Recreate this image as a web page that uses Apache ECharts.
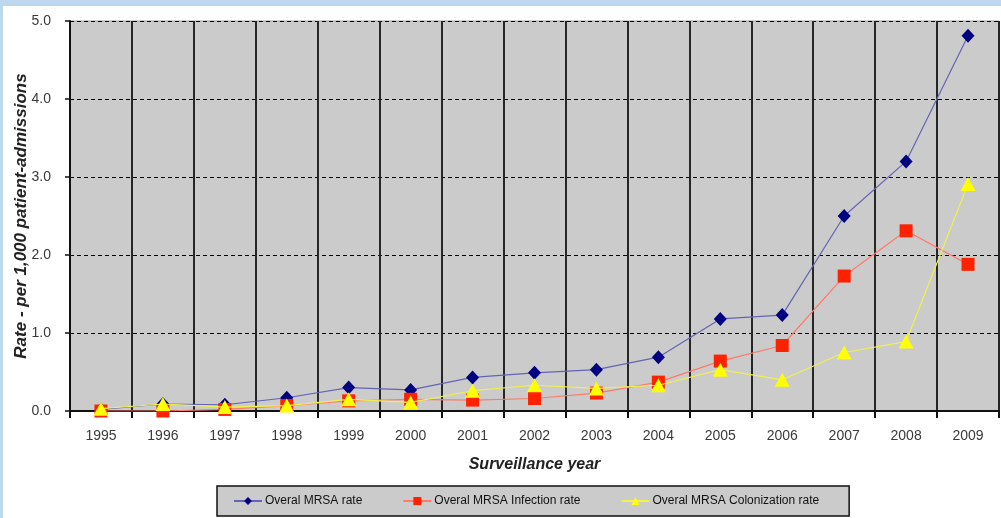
<!DOCTYPE html>
<html>
<head>
<meta charset="utf-8">
<script src="https://cdn.jsdelivr.net/npm/echarts@6/dist/echarts.min.js"></script>
<style>
  html, body { margin: 0; padding: 0; width: 1001px; height: 518px; background: #bdd7ee; overflow: hidden; }
  #chart { position: absolute; left: 3px; top: 6px; width: 998px; height: 512px; background: #ffffff; }
</style>
</head>
<body>
<div id="chart"></div>
<script>
const years = ['1995','1996','1997','1998','1999','2000','2001','2002','2003','2004','2005','2006','2007','2008','2009'];
const overallRate = [0.02, 0.09, 0.08, 0.17, 0.30, 0.27, 0.43, 0.49, 0.53, 0.69, 1.18, 1.23, 2.50, 3.20, 4.81];
const infectionRate = [0.00, 0.00, 0.02, 0.07, 0.13, 0.15, 0.14, 0.16, 0.23, 0.37, 0.64, 0.84, 1.73, 2.31, 1.88];
const colonizationRate = [0.03, 0.09, 0.05, 0.07, 0.15, 0.11, 0.26, 0.33, 0.29, 0.33, 0.53, 0.40, 0.75, 0.89, 2.91];
const yTicks = { min: 0, max: 5, interval: 1 };

const chart = echarts.init(document.getElementById('chart'));
const textColor = '#3a3a3a';
chart.setOption({
  animation: false,
  backgroundColor: '#ffffff',
  grid: {
    left: 67, right: 2, top: 15, bottom: 107,
    containLabel: false,
    outerBoundsMode: 'none',
    show: true, backgroundColor: '#cbcbcb', borderColor: '#a0a0a0', borderWidth: 1
  },
  legend: {
    left: 214, top: 480,
    padding: [9, 30, 9, 16],
    itemGap: 40,
    itemWidth: 28, itemHeight: 10,
    backgroundColor: '#cbcbcb',
    borderColor: '#111', borderWidth: 1.5,
    textStyle: { fontFamily: 'Liberation Sans, Arial', fontSize: 12, color: '#111', padding: [0, 0, 0, -2] },
    data: ['Overal MRSA rate', 'Overal MRSA Infection rate', 'Overal MRSA Colonization rate']
  },
  xAxis: {
    type: 'category',
    data: years,
    boundaryGap: true,
    name: 'Surveillance year',
    nameLocation: 'middle',
    nameGap: 46,
    nameMoveOverlap: false,
    nameTextStyle: { fontFamily: 'Liberation Sans, Arial', fontSize: 16, fontWeight: 'bold', fontStyle: 'italic', color: '#222' },
    axisLine: { lineStyle: { color: '#111', width: 2 } },
    axisTick: { show: true, length: 7, lineStyle: { color: '#111', width: 2 } },
    axisLabel: { fontFamily: 'Liberation Sans, Arial', fontSize: 14, color: textColor, margin: 18 },
    splitLine: { show: true, lineStyle: { color: '#262626', width: 2 } }
  },
  yAxis: {
    type: 'value',
    min: yTicks.min, max: yTicks.max, interval: yTicks.interval,
    name: 'Rate - per 1,000 patient-admissions',
    nameLocation: 'middle',
    nameGap: 40,
    nameMoveOverlap: false,
    nameTextStyle: { fontFamily: 'Liberation Sans, Arial', fontSize: 17, fontWeight: 'bold', fontStyle: 'italic', color: '#222' },
    axisLine: { show: true, lineStyle: { color: '#111', width: 2 } },
    axisTick: { show: true, length: 5, lineStyle: { color: '#111', width: 1.5 } },
    axisLabel: { fontFamily: 'Liberation Sans, Arial', fontSize: 14, color: textColor, margin: 19, formatter: v => v.toFixed(1) },
    splitLine: { show: true, lineStyle: { color: '#000', width: 1, type: [4, 3] } }
  },
  series: [
    {
      name: 'Overal MRSA rate', type: 'line', data: overallRate,
      symbol: 'diamond', symbolSize: [13, 14],
      itemStyle: { color: '#000080' },
      lineStyle: { color: '#6464b4', width: 1.2 },
      z: 3
    },
    {
      name: 'Overal MRSA Infection rate', type: 'line', data: infectionRate,
      symbol: 'rect', symbolSize: 13,
      itemStyle: { color: '#ff2200' },
      lineStyle: { color: '#ff7a6a', width: 1.2 },
      z: 4
    },
    {
      name: 'Overal MRSA Colonization rate', type: 'line', data: colonizationRate,
      symbol: 'triangle', symbolSize: [15, 14],
      itemStyle: { color: '#ffff00' },
      lineStyle: { color: '#f0f050', width: 1.2 },
      z: 5
    }
  ]
});
</script>
</body>
</html>
